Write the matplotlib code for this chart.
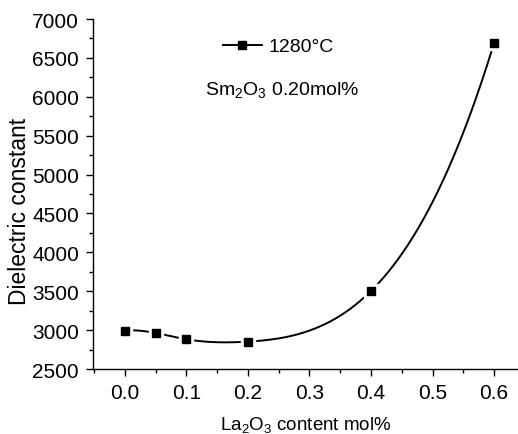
import numpy as np
import matplotlib
matplotlib.use("Agg")
import matplotlib.pyplot as plt
from matplotlib.ticker import MultipleLocator

x = [0.0, 0.05, 0.1, 0.2, 0.4, 0.6]
y = [2995, 2963, 2882, 2852, 3503, 6690]
label = "1280\u00b0C"
note = r"Sm$_{2}$O$_{3}$ 0.20mol%"
xticks = [0.0, 0.1, 0.2, 0.3, 0.4, 0.5, 0.6]
xticklabels = ["0.0", "0.1", "0.2", "0.3", "0.4", "0.5", "0.6"]

def spline_1d(ts, vs, tt):
    """Cubic spline (not-a-knot ends) used only to draw the smooth connecting line."""
    ts = np.asarray(ts, float); vs = np.asarray(vs, float)
    m = len(ts); h = np.diff(ts)
    A = np.zeros((m, m)); b = np.zeros(m)
    A[0, 0] = h[1]; A[0, 1] = -(h[0] + h[1]); A[0, 2] = h[0]
    A[-1, -3] = h[-1]; A[-1, -2] = -(h[-2] + h[-1]); A[-1, -1] = h[-2]
    for i in range(1, m - 1):
        A[i, i - 1] = h[i - 1]; A[i, i] = 2 * (h[i - 1] + h[i]); A[i, i + 1] = h[i]
        b[i] = 3 * ((vs[i + 1] - vs[i]) / h[i] - (vs[i] - vs[i - 1]) / h[i - 1])
    c = np.linalg.solve(A, b)
    idx = np.clip(np.searchsorted(ts, tt) - 1, 0, m - 2)
    bb = (vs[1:] - vs[:-1]) / h - h * (2 * c[:-1] + c[1:]) / 3
    d = (c[1:] - c[:-1]) / (3 * h)
    t = tt - ts[idx]
    return vs[idx] + bb[idx] * t + c[idx] * t**2 + d[idx] * t**3

plt.rcParams['font.family'] = ['Liberation Sans', 'DejaVu Sans']
plt.rcParams['mathtext.fontset'] = 'custom'
plt.rcParams['mathtext.rm'] = 'Liberation Sans'
plt.rcParams['mathtext.it'] = 'Liberation Sans'
plt.rcParams['mathtext.default'] = 'regular'

fig = plt.figure(figsize=(5.18, 4.35), dpi=100)
ax = fig.add_axes([0.1795, 0.1494, 0.8205, 0.8046])
ax.set_xlim(-0.052, 0.639)
ax.set_ylim(2500, 7000)

xx = np.linspace(x[0], x[-1], 600)
yy = spline_1d(x, y, xx)
ax.plot(xx, yy, color='black', lw=1.4, zorder=2)
ax.plot(x, y, ls='none', marker='s', ms=10, color='white', mec='white', zorder=3)
ax.plot(x, y, ls='none', marker='s', ms=5.3, color='black', zorder=4)

ax.plot([], [], color='black', lw=1.4, marker='s', ms=5.3, label=label)
ax.legend(loc='center left', bbox_to_anchor=(0.305, 0.921), frameon=False,
          fontsize=14, handlelength=2.0, handletextpad=0.35, borderpad=0,
          borderaxespad=0)
ax.text(0.2635, 0.786, note, transform=ax.transAxes, fontsize=14, va='baseline')

ax.set_xticks(xticks)
ax.set_xticklabels(xticklabels)
ax.xaxis.set_minor_locator(MultipleLocator(0.05))
ax.yaxis.set_major_locator(MultipleLocator(500))
ax.yaxis.set_minor_locator(MultipleLocator(250))
ax.spines['top'].set_visible(False)
ax.spines['right'].set_visible(False)
for s in ['left', 'bottom']:
    ax.spines[s].set_linewidth(1.0)
ax.tick_params(which='major', direction='out', length=5, width=1, labelsize=15, pad=5)
ax.tick_params(which='minor', direction='out', length=3, width=1)
ax.set_xlabel(r"La$_{2}$O$_{3}$ content mol%", fontsize=13.5)
ax.xaxis.set_label_coords(0.5, -0.128)
ax.set_ylabel("Dielectric constant", fontsize=16.5)
ax.yaxis.set_label_coords(-0.145, 0.454)

fig.savefig("out.png", dpi=100)
